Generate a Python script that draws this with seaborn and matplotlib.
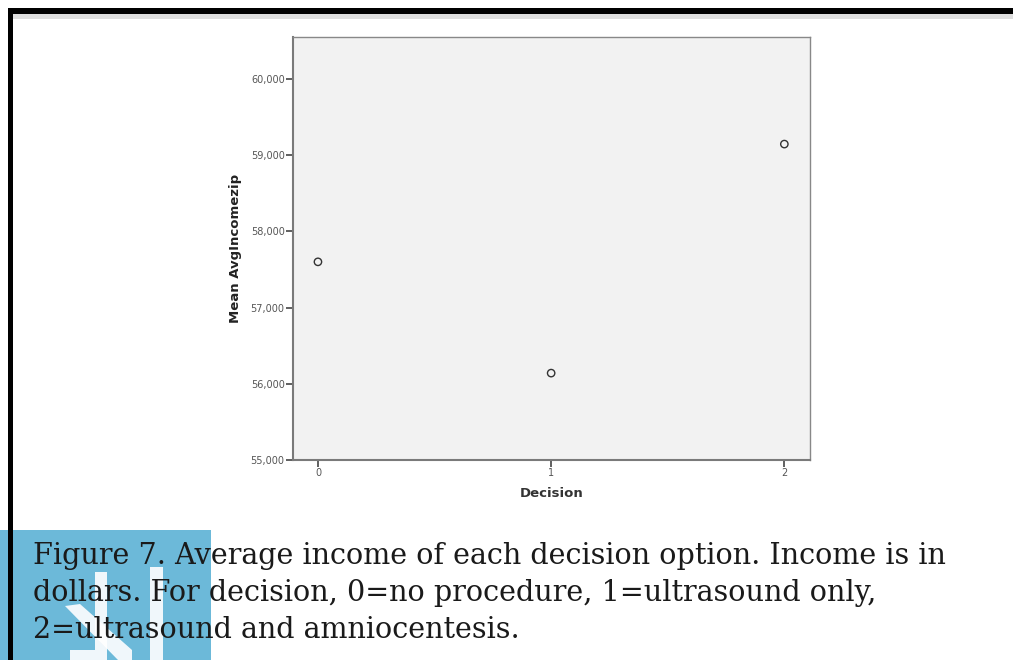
import matplotlib
matplotlib.use("Agg")
import matplotlib.pyplot as plt
import seaborn as sns
import pandas as pd
from matplotlib.patches import Rectangle, Polygon

decision = [0, 1, 2]
mean_income = [57600, 56140, 59145]
y_ticks = [55000, 56000, 57000, 58000, 59000, 60000]
y_tick_labels = ["55,000", "56,000", "57,000", "58,000", "59,000", "60,000"]
x_ticks = [0, 1, 2]
caption = ("Figure 7. Average income of each decision option. Income is in\n"
           "dollars. For decision, 0=no procedure, 1=ultrasound only,\n"
           "2=ultrasound and amniocentesis.")

sns.set_theme(style="white")
plt.rcParams['font.family'] = ['DejaVu Sans']

df = pd.DataFrame({"Decision": decision, "Mean AvgIncomezip": mean_income})

fig = plt.figure(figsize=(10.13, 6.6), dpi=100)
fig.patch.set_facecolor("white")

# page decorations (figure coords)
fig.patches.append(Rectangle((0, 0), 211/1013, 130/660, transform=fig.transFigure,
                             facecolor="#6cb9d9", edgecolor="none", zorder=0))
for pts in [
    [(95, 660), (95, 572), (107, 572), (107, 660)],
    [(150, 660), (150, 567), (163, 567), (163, 660)],
    [(65, 606), (80, 604), (132, 650), (132, 660), (118, 660)],
    [(70, 660), (70, 650), (95, 650), (95, 660)],
]:
    fig.patches.append(Polygon([(x/1013, 1 - y/660) for x, y in pts], closed=True,
                               transform=fig.transFigure, facecolor="white",
                               edgecolor="none", alpha=0.9, zorder=0))
fig.patches.append(Rectangle((8/1013, 0), 5/1013, 1 - 9/660, transform=fig.transFigure,
                             facecolor="black", edgecolor="none", zorder=1))
fig.patches.append(Rectangle((8/1013, 1 - 14/660), 1, 6/660, transform=fig.transFigure,
                             facecolor="black", edgecolor="none", zorder=1))
fig.patches.append(Rectangle((13/1013, 1 - 19/660), 1, 5/660, transform=fig.transFigure,
                             facecolor="#dedede", edgecolor="none", zorder=1))

ax = fig.add_axes([293/1013, 1 - 460/660, 517/1013, 423/660])
ax.set_facecolor("#f2f2f2")

sns.scatterplot(data=df, x="Decision", y="Mean AvgIncomezip", ax=ax,
                marker="o", s=28, facecolor="none", edgecolor="#333333",
                linewidth=1.0, legend=False)

ax.set_xlim(-0.107, 2.11)
ax.set_ylim(55000, 60550)
ax.set_yticks(y_ticks)
ax.set_yticklabels(y_tick_labels)
ax.set_xticks(x_ticks)
ax.set_xticklabels([str(v) for v in x_ticks])

for s in ax.spines.values():
    s.set_color("#888888")
    s.set_linewidth(1.0)
ax.spines["left"].set_color("#7a7a7a")
ax.spines["bottom"].set_color("#7a7a7a")
ax.spines["left"].set_linewidth(1.5)
ax.spines["bottom"].set_linewidth(1.5)

ax.tick_params(axis="both", which="major", direction="out", length=5, width=1.2,
               color="#444444", labelsize=7, labelcolor="#555555", pad=1,
               left=True, bottom=True)

ax.set_xlabel("Decision", fontsize=9.5, fontweight="bold", color="#333333", labelpad=6)
ax.set_ylabel("Mean AvgIncomezip", fontsize=9.5, fontweight="bold", color="#222222",
              labelpad=6)

fig.text(33/1013, 1 - 542/660, caption, fontsize=20.6, family=["DejaVu Serif"],
         color="#1a1a1a", va="top", ha="left", linespacing=1.4, zorder=5)

fig.savefig("out.png", dpi=100, facecolor="white")
